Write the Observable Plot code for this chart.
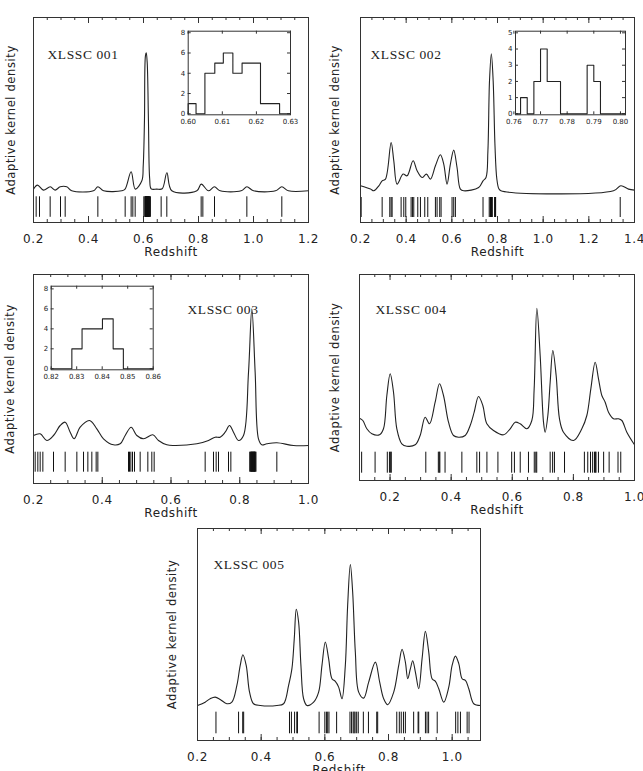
<!DOCTYPE html>
<html><head><meta charset="utf-8">
<script src="https://cdn.jsdelivr.net/npm/d3@7"></script>
<script src="https://cdn.jsdelivr.net/npm/@observablehq/plot@0.6"></script>
<style>
body{margin:0;background:#fff;}
#root{position:relative;width:643px;height:771px;overflow:hidden;background:#fff;}
#root svg{position:absolute;}
</style></head><body><div id="root"></div>
<script>
// ---------- Panel names ----------
const names = ["XLSSC 001", "XLSSC 002", "XLSSC 003", "XLSSC 004", "XLSSC 005"];

// ---------- Tick labels ----------
const xTicks1 = [0.2, 0.4, 0.6, 0.8, 1.0, 1.2];
const xTicks2 = [0.2, 0.4, 0.6, 0.8, 1.0, 1.2, 1.4];
const xTicks3 = [0.2, 0.4, 0.6, 0.8, 1.0];
const xTicks4 = [0.2, 0.4, 0.6, 0.8, 1.0];
const xTicks5 = [0.2, 0.4, 0.6, 0.8, 1.0];
const insetX1 = [0.60, 0.61, 0.62, 0.63];
const insetX2 = [0.76, 0.77, 0.78, 0.79, 0.80];
const insetX3 = [0.82, 0.83, 0.84, 0.85, 0.86];
const insetY1 = [0, 2, 4, 6, 8];
const insetY2 = [0, 1, 2, 3, 4, 5];
const insetY3 = [0, 2, 4, 6, 8];

// ---------- Panel 1: XLSSC 001 ----------
const curve1Z = [0.200,0.2145,0.236,0.261,0.279,0.297,0.321,0.339,0.418,0.434,0.455,0.521,0.533,0.555,0.570,0.594,0.599,0.6035,0.607,0.610,0.6135,0.618,0.6225,0.628,0.648,0.668,0.685,0.703,0.794,0.810,0.836,0.858,0.879,0.955,0.976,1.000,1.080,1.103,1.127,1.200];
const curve1D = [1.7,5.7,0.7,4,0.7,4,4,0,0,4,0,0,1.7,19,1.7,10,25,70,135,138,128,70,12,2,1.7,2,18,0,0,6.7,0,4,0,0,4,0,0,4,0,0];
const rug1 = [0.2097,0.2218,0.2606,0.2982,0.3152,0.434,0.5333,0.555,0.5612,0.5697,
  0.6012,0.6053,0.6060,0.6068,0.6075,0.6080,0.6085,0.6090,0.6095,0.6100,
  0.6106,0.6110,0.6115,0.6119,0.6124,0.6128,0.6135,0.6142,0.6148,0.6154,
  0.6161,0.6166,0.6171,0.6177,0.6183,0.6188,0.6193,0.6198,0.6204,0.6209,0.6225,0.6252,
  0.6642,0.6848,0.8097,0.8158,0.8582,0.9758,1.103];
const hist1Edges = [0.6000,0.6023,0.6049,0.6078,0.6103,0.6131,0.6158,0.6212,0.6268];
const hist1Counts = [1,0,4,5,6,4,5,1];

// ---------- Panel 2: XLSSC 002 ----------
const curve2Z = [0.200,0.2437,0.2583,0.2802,0.2948,0.3094,0.3341,0.3458,0.3604,0.3866,0.4041,0.4304,0.4479,0.4697,0.4887,0.5062,0.5281,0.5499,0.5645,0.5791,0.5937,0.6083,0.6228,0.6374,0.6520,0.7176,0.7366,0.7497,0.758,0.765,0.773,0.781,0.789,0.797,0.806,0.815,1.3081,1.3402,1.3738,1.400];
const curve2D = [5,1.7,0,5,10,11.7,48.3,30,6.7,16.7,15,30,20,13.3,16.7,11.7,25,36,26.7,6.7,26.7,40.7,23.3,1.7,0,3.3,10,13.3,40,110,137,110,45,12,2,0,0,5,1.7,0.7];
const rug2 = [0.2029,0.2948,0.3283,0.3341,0.3385,0.3779,0.3896,0.3983,0.4216,0.4275,0.4333,0.4508,0.4625,0.4814,0.4946,0.5281,0.5354,0.5470,0.5529,0.6010,0.6083,0.6156,0.7366,
  0.7638,0.7683,0.7693,0.7704,0.7710,0.7716,0.7721,0.7732,0.7745,0.7757,0.7768,0.7880,0.7888,0.7895,0.7906,0.7918,1.3374];
const hist2Edges = [0.7625,0.765,0.7675,0.770,0.7725,0.7775,0.7875,0.790,0.7925];
const hist2Counts = [1,0,2,4,2,0,3,2];

// ---------- Panel 3: XLSSC 003 ----------
const curve3Z = [0.200,0.2194,0.2388,0.2582,0.2776,0.2921,0.3067,0.3183,0.3358,0.3629,0.3842,0.4036,0.4327,0.4521,0.4667,0.4841,0.5006,0.5200,0.5472,0.5636,0.5879,0.6073,0.6752,0.7091,0.7285,0.7430,0.7576,0.7702,0.7818,0.7964,0.8109,0.8255,0.8352,0.8448,0.8545,0.8642,0.8788,0.9079,0.9564,1.0];
const curve3D = [10,11.7,5,10,20,23.3,13.3,6.7,18.3,25,16.7,6.7,0.7,1.7,10,18.3,10,6.7,10.7,5,0.7,0,1.7,5,8.3,8.3,13.3,20,13.3,5,10,73.3,136.7,73.3,6.7,0.7,1.7,2.7,0,0];
const rug3 = [0.2049,0.2126,0.2194,0.2272,0.2582,0.2921,0.3261,0.3455,0.3581,0.3697,0.3823,0.3872,0.4764,0.4793,0.4832,0.4880,0.4938,0.5103,0.5326,0.5442,0.5510,0.6994,0.7236,0.7314,0.7382,0.7673,0.7741,
  0.8290,0.8310,0.8326,0.8335,0.8345,0.8355,0.8365,0.8375,0.8385,0.8395,0.8406,0.8414,0.8422,0.8430,0.8438,0.8455,0.8472,0.9079];
const hist3Edges = [0.8281,0.8321,0.8401,0.8443,0.8483];
const hist3Counts = [2,4,5,2];

// ---------- Panel 4: XLSSC 004 ----------
const curve4Z = [0.1000,0.1109,0.1240,0.1404,0.1655,0.1785,0.1895,0.2004,0.2113,0.2222,0.2385,0.2549,0.2822,0.2985,0.3149,0.3291,0.3476,0.3618,0.3749,0.3913,0.4076,0.4240,0.4458,0.4622,0.4753,0.4895,0.5036,0.5167,0.5385,0.5713,0.5931,0.6095,0.6258,0.6476,0.6640,0.6716,0.6804,0.6913,0.7022,0.7076,0.7164,0.7240,0.7327,0.7436,0.7545,0.7676,0.8004,0.8276,0.8440,0.8571,0.8713,0.8822,0.8931,0.9040,0.9149,0.9313,0.9476,0.9585,0.9749,1.0];
const curve4D = [27.3,25,16.7,11.7,10.7,16.7,50,71.7,53.3,16.7,1.7,-0.7,0.7,10,28.3,21.7,43.3,61.7,50,23.3,10,8.3,10,20,33.3,49,40,21.7,15,10.7,16.7,23.3,21.7,16.7,25,56.7,137.3,90,23.3,13.3,30,63.3,95,70,26.7,13.3,5,16.7,30,56.7,83.3,66.7,50,43.3,33.3,26.7,26.7,25,13.3,0.7];
const rug4 = [0.107,0.151,0.191,0.198,0.202,0.204,0.317,0.358,0.361,0.363,0.380,0.435,0.484,0.493,0.517,0.553,0.598,0.607,0.626,0.653,0.672,0.677,0.680,0.724,0.732,0.738,0.771,0.836,0.847,0.856,0.863,0.869,0.872,0.874,0.882,0.899,0.917,0.946,0.955];

// ---------- Panel 5: XLSSC 005 ----------
const curve5Z = [0.2,0.2241,0.2398,0.2556,0.2713,0.2922,0.3080,0.3237,0.3342,0.3426,0.3530,0.3635,0.3761,0.3971,0.4495,0.4704,0.4862,0.4966,0.5040,0.5103,0.5176,0.5249,0.5333,0.5438,0.5648,0.5805,0.5910,0.6015,0.6119,0.6224,0.6329,0.6434,0.6539,0.6644,0.6717,0.6801,0.6874,0.6958,0.7063,0.7220,0.7377,0.7587,0.7723,0.7849,0.7975,0.8164,0.8321,0.8426,0.8530,0.8604,0.8688,0.8761,0.8845,0.8950,0.9055,0.9159,0.9264,0.9369,0.9474,0.9579,0.9736,0.9893,0.9998,1.0103,1.0208,1.0313,1.0417,1.0522,1.0679,1.0889];
const curve5D = [0,3.3,6.7,8.3,6,1.7,3.3,20,40,50.7,40,13.3,1.7,0,0,1.7,20,36.7,66.7,96,83.3,40,6.7,0,3.3,13.3,40,63.3,46.7,26.7,24,18.3,6.7,40,100,140.7,113.3,53.3,13.3,7.3,23.3,43.3,23.3,6.7,0.7,13.3,40,56,43.3,26.7,36.7,44.7,33.3,16.7,46.7,74,53.3,26.7,24,16.7,3.3,18.3,40,49.3,41.7,26.7,25,16.7,1.7,0];
const rug5 = [0.258,0.329,0.342,0.345,0.489,0.495,0.505,0.512,0.514,0.582,0.600,0.605,0.609,0.613,0.637,0.679,0.684,0.689,0.692,0.695,0.700,0.705,0.721,0.737,0.763,0.766,0.826,0.834,0.840,0.847,0.853,0.879,0.893,0.895,0.916,0.921,0.926,0.953,1.011,1.018,1.026,1.047,1.053];

// ---------- Builders ----------
const root = document.getElementById("root");
function place(svg, left, top) {
  svg.style.position = "absolute";
  svg.style.left = left + "px";
  svg.style.top = top + "px";
  root.appendChild(svg);
}

function mainPanel(o) {
  const fh = o.height - o.mT - o.mB;
  const curve = o.curveZ.map((z, i) => ({z, d: o.curveD[i]}));
  const k0 = Math.ceil(o.xDomain[0] / 0.05 - 1e-9), k1 = Math.floor(o.xDomain[1] / 0.05 + 1e-9);
  const minors = d3.range(k0, k1 + 1).map(k => +(k * 0.05).toFixed(2));
  const svg = Plot.plot({
    width: o.width, height: o.height,
    marginLeft: o.mL, marginRight: o.mR, marginTop: o.mT, marginBottom: o.mB,
    style: {fontFamily: "DejaVu Sans", fontSize: "12px", background: "transparent", overflow: "visible", letterSpacing: "0.6px", color: "#222"},
    x: {domain: o.xDomain},
    y: {domain: o.yDomain, axis: null},
    marks: [
      Plot.ruleX(minors, {x: d => d, insetTop: fh - 3, stroke: "#333"}),
      Plot.ruleX(minors, {x: d => d, insetBottom: fh - 3, stroke: "#333"}),
      Plot.ruleX(o.ticks, {x: d => d, insetTop: fh - 6, stroke: "#333"}),
      Plot.ruleX(o.ticks, {x: d => d, insetBottom: fh - 6, stroke: "#333"}),
      Plot.ruleX(o.rug, {x: d => d, y1: o.rugY[0], y2: o.rugY[1], stroke: "#111", strokeWidth: 1}),
      Plot.line(curve, {x: "z", y: "d", curve: "catmull-rom", stroke: "#222", strokeWidth: 1.1}),
      Plot.frame({stroke: "#333"}),
      Plot.axisX(o.ticks, {tickSize: 0, tickPadding: 12, tickFormat: d3.format(".1f"), fontSize: 12, label: "Redshift", labelAnchor: "center", labelOffset: 33, labelArrow: "none"}),
      Plot.text(["Adaptive kernel density"], {frameAnchor: "left", textAnchor: "middle", rotate: -90, dx: o.yLabDx, text: d => d, fontSize: 11.5}),
      Plot.text([o.name], {frameAnchor: "top-left", dx: o.nameDx, dy: o.nameDy, text: d => d, textAnchor: "start", fontFamily: "Liberation Serif", fontSize: 13.5})
    ]
  });
  place(svg, o.left, o.top);
}

function inset(o) {
  const fw = o.width - o.mL - o.mR, fh = o.height - o.mT - o.mB;
  const pts = [{x: o.xDomain[0], y: 0}, {x: o.edges[0], y: 0}];
  o.counts.forEach((c, i) => { pts.push({x: o.edges[i], y: c}); pts.push({x: o.edges[i + 1], y: c}); });
  pts.push({x: o.edges[o.edges.length - 1], y: 0});
  pts.push({x: o.xDomain[1], y: 0});
  const svg = Plot.plot({
    width: o.width, height: o.height,
    marginLeft: o.mL, marginRight: o.mR, marginTop: o.mT, marginBottom: o.mB,
    style: {fontFamily: "DejaVu Sans", fontSize: "7px", background: "transparent", overflow: "visible", color: "#222"},
    x: {domain: o.xDomain},
    y: {domain: o.yDomain},
    marks: [
      Plot.ruleX(o.xTicks, {x: d => d, insetTop: fh - 3, stroke: "#333"}),
      Plot.ruleX(o.xTicks, {x: d => d, insetBottom: fh - 3, stroke: "#333"}),
      Plot.ruleY(o.yTicks, {y: d => d, insetRight: fw - 3, stroke: "#333"}),
      Plot.ruleY(o.yTicks, {y: d => d, insetLeft: fw - 3, stroke: "#333"}),
      Plot.line(pts, {x: "x", y: "y", stroke: "#222", strokeWidth: 1.1}),
      Plot.frame({stroke: "#333"}),
      Plot.axisX(o.xTicks, {tickSize: 0, tickPadding: 4, tickFormat: d3.format(".2f"), label: null}),
      Plot.axisY(o.yTicks, {tickSize: 0, tickPadding: 3, tickFormat: d3.format("d"), label: null})
    ]
  });
  place(svg, o.left, o.top);
}

mainPanel({left: 0, top: 0, width: 320, height: 262, mL: 33, mR: 12, mT: 17, mB: 40,
  xDomain: [0.2, 1.2], yDomain: [-31.7, 173.3], ticks: xTicks1, curveZ: curve1Z, curveD: curve1D,
  rug: rug1, rugY: [-6, -26.5], name: names[0], nameDx: 14, nameDy: 32, yLabDx: -22});
mainPanel({left: 320, top: 0, width: 323, height: 262, mL: 40, mR: 9, mT: 17, mB: 40,
  xDomain: [0.2, 1.4], yDomain: [-31.7, 173.3], ticks: xTicks2, curveZ: curve2Z, curveD: curve2D,
  rug: rug2, rugY: [-6.7, -26.7], name: names[1], nameDx: 10, nameDy: 32, yLabDx: -25});
mainPanel({left: 0, top: 255, width: 320, height: 265, mL: 33, mR: 12, mT: 19, mB: 37,
  xDomain: [0.2, 1.0], yDomain: [-38, 171], ticks: xTicks3, curveZ: curve3Z, curveD: curve3D,
  rug: rug3, rugY: [-6.7, -26.7], name: names[2], nameDx: 154, nameDy: 30, yLabDx: -23});
mainPanel({left: 320, top: 255, width: 323, height: 265, mL: 39, mR: 9, mT: 19, mB: 40,
  xDomain: [0.1, 1.0], yDomain: [-35, 171], ticks: xTicks4, curveZ: curve4Z, curveD: curve4D,
  rug: rug4, rugY: [-6.7, -27.7], name: names[3], nameDx: 16, nameDy: 30, yLabDx: -24});
mainPanel({left: 150, top: 505, width: 340, height: 266, mL: 47, mR: 10, mT: 23, mB: 31,
  xDomain: [0.2, 1.089], yDomain: [-35, 176.7], ticks: xTicks5, curveZ: curve5Z, curveD: curve5D,
  rug: rug5, rugY: [-6.7, -28.3], name: names[4], nameDx: 16, nameDy: 31, yLabDx: -25});

inset({left: 165, top: 20, width: 130, height: 112, mL: 22.7, mR: 5, mT: 10.7, mB: 17.7,
  xDomain: [0.60, 0.63], yDomain: [-0.1, 8.15], xTicks: insetX1, yTicks: insetY1, edges: hist1Edges, counts: hist1Counts});
inset({left: 493, top: 20, width: 137, height: 112, mL: 22, mR: 5, mT: 10.7, mB: 17.7,
  xDomain: [0.7606, 0.8019], yDomain: [-0.06, 5.1], xTicks: insetX2, yTicks: insetY2, edges: hist2Edges, counts: hist2Counts});
inset({left: 28, top: 275, width: 130, height: 112, mL: 22.7, mR: 5.3, mT: 10.7, mB: 17.7,
  xDomain: [0.82, 0.86], yDomain: [-0.1, 8.27], xTicks: insetX3, yTicks: insetY3, edges: hist3Edges, counts: hist3Counts});
</script></body></html>
